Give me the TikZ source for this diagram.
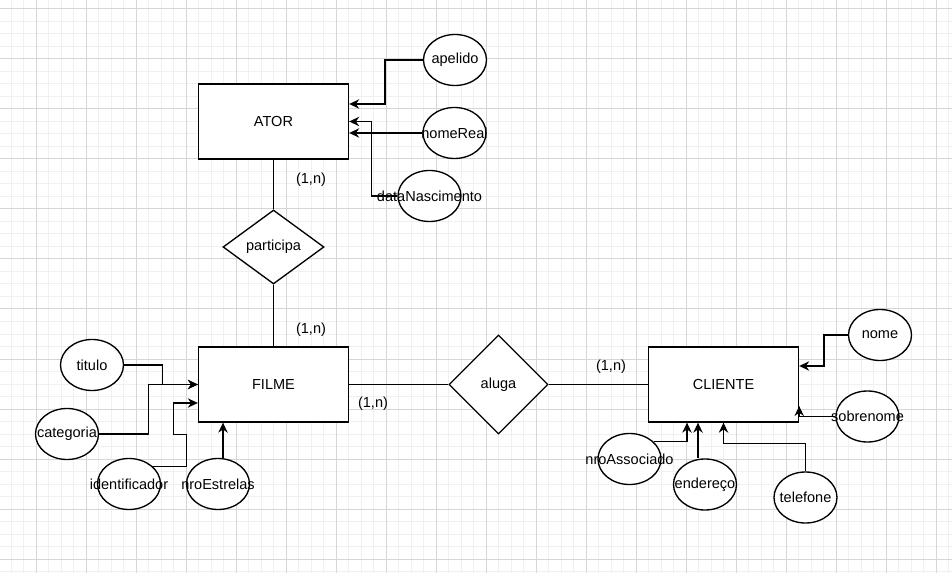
\documentclass[tikz,border=0pt]{standalone}
\usepackage{fontspec}
\setmainfont{Liberation Sans}
\usetikzlibrary{arrows.meta,shapes.geometric,calc}

\definecolor{minorline}{HTML}{F0F0F0}
\definecolor{majorline}{HTML}{D6D6D6}

\begin{document}
\begin{tikzpicture}[x=0.75pt,y=-0.75pt,line width=1pt,
      font=\fontsize{10.9}{13}\selectfont,
      entity/.style={rectangle,draw,fill=white,minimum width=112.5pt,minimum height=56.25pt},
      relation/.style={diamond,draw,fill=white,inner sep=0pt},
      attr/.style={ellipse,draw,fill=white,minimum width=47.25pt,minimum height=38.25pt,inner sep=0pt,label=center:#1},
      link/.style={-{Stealth[length=7.5pt,width=7pt]}}]
      \useasboundingbox (0,0) rectangle (952,573);
      \fill[white] (0,0) rectangle (952,573);

      % grid
      \foreach \x in {-1.5,11,...,952}
        \draw[minorline,line width=0.75pt] (\x,0) -- (\x,573);
      \foreach \y in {-3.5,9,...,573}
        \draw[minorline,line width=0.75pt] (0,\y) -- (952,\y);
      \foreach \x in {36,86,...,936}
        \draw[majorline,line width=0.75pt] (\x,0) -- (\x,573);
      \foreach \y in {9,59,...,559}
        \draw[majorline,line width=0.75pt] (0,\y) -- (952,\y);

      % entities and relations
      \node[entity] (ator) at (273.5,121.5) {ATOR};
      \node[relation,minimum width=75.75pt,minimum height=55.5pt] (participa) at (273.5,247) {participa};
      \node[entity] (filme) at (273.5,384.5) {FILME};
      \node[relation,minimum width=74.25pt,minimum height=74.25pt] (aluga) at (498.5,384.5) {aluga};
      \node[entity] (cliente) at (723.5,384.5) {CLIENTE};

      % attributes
      \node[attr=apelido] (apelido) at (455,60) {};
      \node[attr=nomeReal] (nomereal) at (454.5,133) {};
      \node[attr=dataNascimento] (datanasc) at (429.5,196) {};
      \node[attr=titulo] (titulo) at (92,365) {};
      \node[attr=categoria] (categoria) at (67,434) {};
      \node[attr=identificador] (ident) at (129,484) {};
      \node[attr=nroEstrelas] (estrelas) at (218,484) {};
      \node[attr=nroAssociado] (nroassoc) at (629.5,459) {};
      \node[attr=endereço] (endereco) at (705,484.5) {};
      \node[attr=telefone] (telefone) at (805.5,497.5) {};
      \node[attr=nome] (nome) at (880,335) {};
      \node[attr=sobrenome] (sobrenome) at (867.5,416.5) {};

      % cardinalities
      \node (card1) at (311,180) {(1,n)};
      \node (card2) at (311,330) {(1,n)};
      \node (card3) at (373,404) {(1,n)};
      \node (card4) at (611,367) {(1,n)};

      \draw (ator.south) -- (participa.north);
      \draw (participa.south) -- (filme.north);
      \draw (filme.east) -- (aluga.west);
      \draw (aluga.east) -- (cliente.west);

      \draw[link] (apelido.west) -- ++(-38,0) |- ($(ator.east)+(0,-17.5)$);
      \draw[link] (nomereal.west) -- (ator.east |- nomereal.west);
      \draw[link] (datanasc.west) -- ++(-26,0) |- (ator.east);

      \draw[link] (titulo.east) -- ++(38.5,0) |- (filme.west);
      \draw[link] (categoria.east) -- ++(49.5,0) |- (filme.west);
      \draw[link] (ident.37) -- ++(34,0) |- ++(-13,-32) |- ($(filme.west)+(0,18.5)$);
      \draw[link] ($(estrelas.north)+(5,0)$) -- ($(filme.south)+(-50.5,0)$);

      \draw[link] (nome.west) -- ++(-24,0) |- ($(cliente.east)+(0,-18.5)$);
      \draw[link] (sobrenome.west) -| ($(cliente.east)+(0,21.5)$);
      \draw[link] (nroassoc.36) -| ($(cliente.south)+(-36.5,0)$);
      \draw[link] ($(endereco.north)+(-7,0)$) -- ($(cliente.south)+(-25.5,0)$);
      \draw[link] (telefone.north) -- ++(0,-28) -| (cliente.south);
    \end{tikzpicture}
\end{document}
